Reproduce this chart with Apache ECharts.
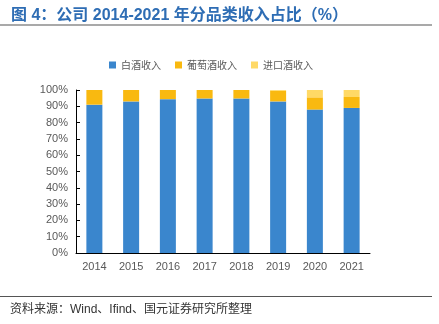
<!DOCTYPE html>
<html><head><meta charset="utf-8">
<script src="https://cdn.jsdelivr.net/npm/echarts@6/dist/echarts.min.js"></script>
<style>html,body{margin:0;padding:0;background:#fff}#c{width:439px;height:324px}</style>
</head><body><div id="c"></div>
<script>
const categories = ['2014','2015','2016','2017','2018','2019','2020','2021'];
const baijiu = [91, 93, 94.4, 94.8, 94.8, 93, 88, 89];
const putao = [9, 7, 5.6, 5.2, 5.2, 6.5, 7.5, 6.7];
const jinkou = [0, 0, 0, 0, 0, 0.5, 4.5, 4.3];
const seriesNames = ['白酒收入', '葡萄酒收入', '进口酒收入'];

const chart = echarts.init(document.getElementById('c'));
const font = '"Liberation Sans", Arial, "Noto Sans CJK SC", sans-serif';
chart.setOption({
  animation: false,
  textStyle: { fontFamily: font },
  title: {
    text: '图 4：公司 2014-2021 年分品类收入占比（%）',
    left: 6, top: 3,
    textStyle: { fontSize: 16, fontWeight: 'bold', color: '#2E6DB4', fontFamily: font }
  },
  legend: {
    top: 55, left: 104,
    itemWidth: 7, itemHeight: 7, itemGap: 14,
    icon: 'rect',
    textStyle: { fontSize: 10, color: '#595959', fontFamily: '"Noto Sans CJK SC", sans-serif' },
    data: seriesNames
  },
  grid: { left: 76, right: 69, top: 90, bottom: 71 },
  xAxis: {
    type: 'category', data: categories,
    axisLine: { lineStyle: { color: '#000', width: 1 } },
    axisTick: { inside: true, length: 4, lineStyle: { color: '#000' } },
    axisLabel: { color: '#595959', fontSize: 11, margin: 8 }
  },
  yAxis: {
    type: 'value', min: 0, max: 100, interval: 10,
    axisLine: { show: true, lineStyle: { color: '#000', width: 1 } },
    axisTick: { show: true, inside: true, length: 4, lineStyle: { color: '#000' } },
    splitLine: { show: false },
    axisLabel: { color: '#595959', fontSize: 11, margin: 8, formatter: v => v + '%' }
  },
  series: [
    { name: seriesNames[0], type: 'bar', stack: 's', barWidth: 16, data: baijiu, itemStyle: { color: '#3A86CD' } },
    { name: seriesNames[1], type: 'bar', stack: 's', barWidth: 16, data: putao, itemStyle: { color: '#F9B910' } },
    { name: seriesNames[2], type: 'bar', stack: 's', barWidth: 16, data: jinkou, itemStyle: { color: '#FFD966' } }
  ],
  graphic: [
    { type: 'line', shape: { x1: 0, y1: 25, x2: 432, y2: 25 }, style: { stroke: '#8C8C8C', lineWidth: 1.5 } },
    { type: 'line', shape: { x1: 0, y1: 296.5, x2: 432, y2: 296.5 }, style: { stroke: '#555', lineWidth: 1 } },
    { type: 'text', left: 10, top: 304, style: { text: '资料来源：Wind、Ifind、国元证券研究所整理', fontSize: 12, fill: '#333', fontFamily: font } }
  ]
});
</script></body></html>
